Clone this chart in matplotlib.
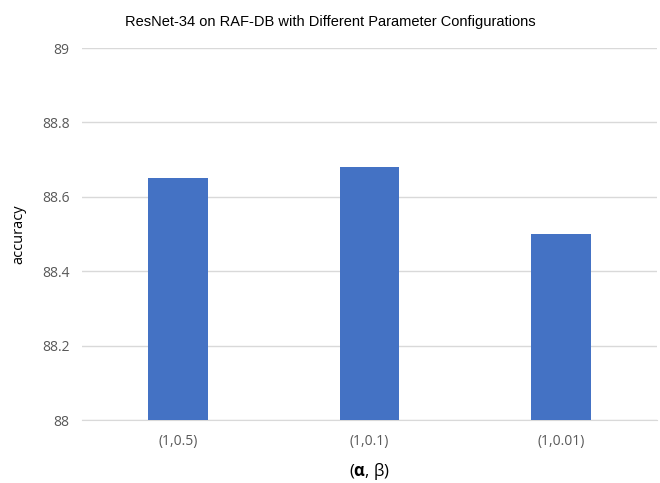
import matplotlib
matplotlib.use('Agg')
import matplotlib.pyplot as plt

configs = ['(1,0.5)', '(1,0.1)', '(1,0.01)']
accuracy = [88.65, 88.68, 88.50]
y_ticks = [88, 88.2, 88.4, 88.6, 88.8, 89]

plt.rcParams['font.family'] = ['Open Sans', 'DejaVu Sans']
plt.rcParams['mathtext.fontset'] = 'custom'
plt.rcParams['mathtext.rm'] = 'Open Sans'
plt.rcParams['mathtext.bf'] = 'Open Sans:bold'

fig = plt.figure(figsize=(6.6, 4.83), dpi=100)
ax = fig.add_axes([0.1242, 0.1304, 0.8713, 0.7702])

ax.bar(range(len(configs)), accuracy, width=0.31, color='#4472C4', zorder=3)

ax.set_ylim(88, 89)
ax.set_xlim(-0.5, len(configs) - 0.5)
ax.set_yticks(y_ticks)
ax.set_yticklabels(['88', '88.2', '88.4', '88.6', '88.8', '89'])
ax.set_xticks(range(len(configs)))
ax.set_xticklabels(configs)
ax.tick_params(axis='both', length=0, labelsize=10, colors='#595959', pad=9)
ax.tick_params(axis='x', pad=10)

ax.grid(axis='y', color='#D9D9D9', linewidth=1, zorder=0)
for side in ['top', 'right', 'left']:
    ax.spines[side].set_visible(False)
ax.spines['bottom'].set_color('#D9D9D9')

ax.set_ylabel('accuracy', fontsize=10.5, color='black', labelpad=11)
ax.set_xlabel(r'($\mathbf{\alpha}$, β)', fontsize=12, color='black', labelpad=9)
fig.text(0.5, 0.955, 'ResNet-34 on RAF-DB with Different Parameter Configurations',
         ha='center', va='center', fontsize=10.5, family='Liberation Sans')

fig.savefig('out.png', dpi=100)
